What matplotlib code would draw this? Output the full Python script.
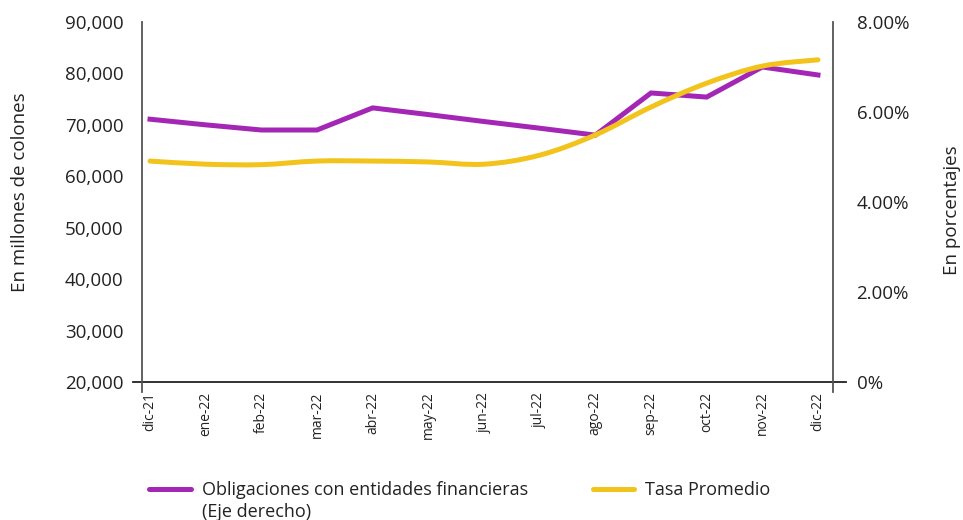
import numpy as np
import matplotlib
matplotlib.use("Agg")
import matplotlib.pyplot as plt
from matplotlib.path import Path
from matplotlib.patches import PathPatch
from matplotlib.lines import Line2D
from matplotlib.ticker import FuncFormatter

plt.rcParams['font.family'] = ['Open Sans', 'DejaVu Sans']

meses = ["dic-21", "ene-22", "feb-22", "mar-22", "abr-22", "may-22", "jun-22",
         "jul-22", "ago-22", "sep-22", "oct-22", "nov-22", "dic-22"]
# millones de colones
obligaciones = [71100, 70000, 69000, 69000, 73300, 72000, 70650,
                69350, 68000, 76200, 75400, 81250, 79700]
# porcentaje
tasa = [4.91, 4.84, 4.83, 4.91, 4.91, 4.89, 4.84,
        5.04, 5.49, 6.11, 6.64, 7.02, 7.16]

morado = "#A326B5"
amarillo = "#F2C31B"
gris = "#555555"
texto = "#222222"

fig = plt.figure(figsize=(9.63, 5.2), dpi=100)
ax = fig.add_axes([142 / 963, 1 - 382 / 520, (833 - 142) / 963, 360 / 520])
ax2 = ax.twinx()

x = np.arange(len(meses))
ax.plot(x, obligaciones, color=morado, lw=3.6, solid_joinstyle="miter", zorder=3)


# curva suavizada (Catmull-Rom -> Bezier) para la tasa
def suave(xs, ys):
    pts = np.column_stack([xs, ys])
    verts = [pts[0]]
    codes = [Path.MOVETO]
    n = len(pts)
    for i in range(n - 1):
        p0 = pts[max(i - 1, 0)]
        p1 = pts[i]
        p2 = pts[i + 1]
        p3 = pts[min(i + 2, n - 1)]
        c1 = p1 + (p2 - p0) / 6
        c2 = p2 - (p3 - p1) / 6
        verts += [c1, c2, p2]
        codes += [Path.CURVE4] * 3
    return Path(verts, codes)


ax2.add_patch(PathPatch(suave(x, tasa), fill=False, edgecolor=amarillo,
                        lw=3.6, capstyle="round", zorder=2))

ax.set_xlim(-0.144, 12.27)
ax.set_ylim(20000, 90000)
ax2.set_ylim(0, 8)

ax.set_yticks(range(20000, 90001, 10000))
ax.yaxis.set_major_formatter(FuncFormatter(lambda v, p: f"{int(v):,}"))
ax2.set_yticks([0, 2, 4, 6, 8])
ax2.set_yticklabels(["0%", "2.00%", "4.00%", "6.00%", "8.00%"])

ax.set_xticks(x)
ax.set_xticklabels(meses, rotation=90, fontsize=10)
ax.tick_params(axis="x", length=0, pad=7, colors=texto)
ax.tick_params(axis="y", length=0, pad=13.5, labelsize=13.5, colors=texto)
ax2.tick_params(axis="y", length=0, pad=17, labelsize=13.5, colors=texto)

for a in (ax, ax2):
    for s in a.spines.values():
        s.set_visible(False)

# ejes con sus pequeñas prolongaciones
tr = ax.transAxes
ax.add_line(Line2D([0, 0], [0, 1], transform=tr, color=gris, lw=1.3, clip_on=False))
ax.add_line(Line2D([1, 1], [0, 1], transform=tr, color=gris, lw=1.3, clip_on=False))
ax.add_line(Line2D([-9 / 691, 13 / 691 + 1], [0, 0], transform=tr, color=texto,
                   lw=1.3, clip_on=False))
ax.add_line(Line2D([0, 0], [0, -10 / 360], transform=tr, color=gris, lw=1.3, clip_on=False))
ax.add_line(Line2D([1, 1], [0, -10 / 360], transform=tr, color=gris, lw=1.3, clip_on=False))

fig.text(20 / 963, 1 - 192 / 520, "En millones de colones", rotation=90,
         ha="center", va="center", fontsize=13.5, color=texto)
fig.text(952 / 963, 1 - 210 / 520, "En porcentajes", rotation=90,
         ha="center", va="center", fontsize=13.5, color=texto)

h1 = Line2D([], [], color=morado, lw=3.6, solid_capstyle="round")
h2 = Line2D([], [], color=amarillo, lw=3.6, solid_capstyle="round")
leg = fig.legend([h1, h2], ["Obligaciones con entidades financieras", "Tasa Promedio"],
                 loc="center left", bbox_to_anchor=(142 / 963, 1 - 490 / 520), ncol=2,
                 frameon=False, fontsize=13, handlelength=2.3, handletextpad=0.6,
                 columnspacing=3.6, borderaxespad=0, labelcolor=texto)

# segunda línea de la etiqueta, alineada con el texto de la leyenda
fig.canvas.draw()
bb = leg.get_texts()[0].get_window_extent()
fig.text(bb.x0 / 963, 1 - 512 / 520, "(Eje derecho)", ha="left", va="center",
         fontsize=13, color=texto)

fig.savefig("out.png", dpi=100)
